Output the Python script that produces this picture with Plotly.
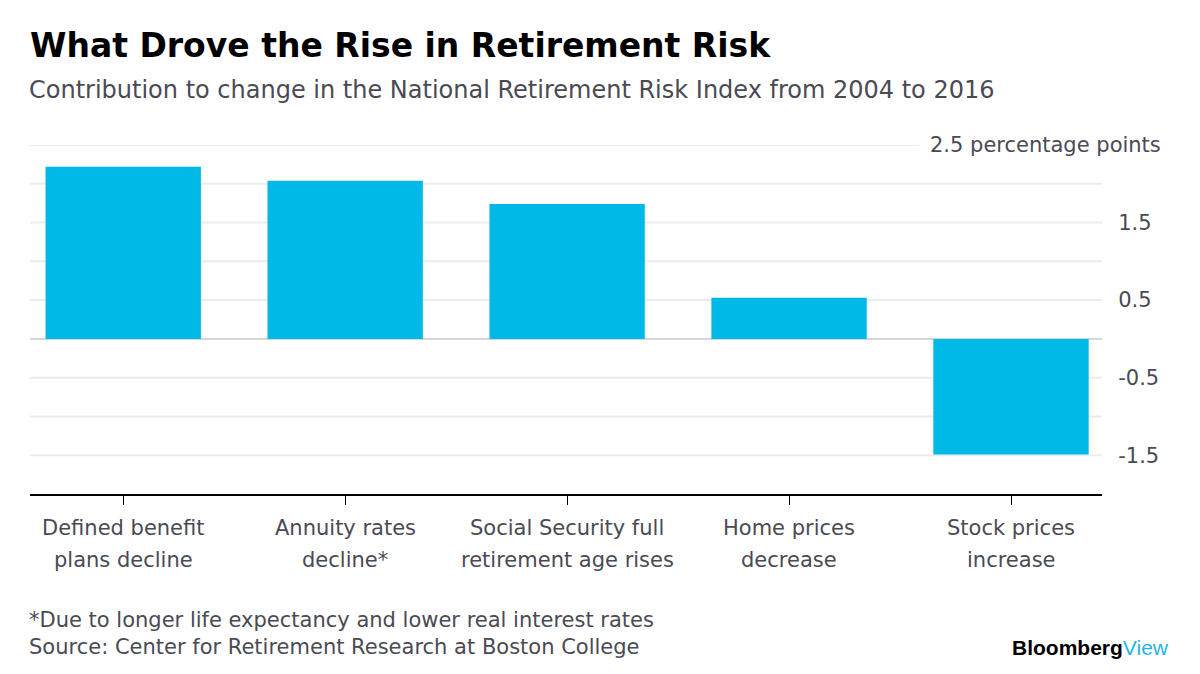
import plotly.graph_objects as go

categories = ["Defined benefit<br>plans decline", "Annuity rates<br>decline*",
              "Social Security full<br>retirement age rises", "Home prices<br>decrease",
              "Stock prices<br>increase"]
values = [2.22, 2.04, 1.74, 0.53, -1.49]
y_tickvals = [-1.5, -0.5, 0.5, 1.5]
y_ticktext = ["-1.5", "-0.5", "0.5", "1.5"]
grid_vals = [-1.5, -1.0, -0.5, 0.5, 1.0, 1.5, 2.0, 2.5]

FONT = "DejaVu Sans"
GREY = "#4a4a55"

W, H = 1200, 674
L, R, T, B = 30, 98, 145, 180
PH = H - T - B  # plot height
PW = W - L - R


def py(pix_y):
    """page pixel y -> paper coordinate"""
    return (H - B - pix_y) / PH


def px(pix_x):
    return (pix_x - L) / PW


fig = go.Figure()
fig.add_trace(go.Bar(x=list(range(len(categories))), y=values, width=0.7,
                     marker=dict(color="#00b9e6", line=dict(width=0)), hoverinfo="skip"))

for g in grid_vals:
    fig.add_shape(type="line", xref="paper", yref="y", x0=0, x1=1, y0=g, y1=g,
                  line=dict(color="#ececec", width=2), layer="below")
fig.add_shape(type="line", xref="paper", yref="y", x0=0, x1=1, y0=0, y1=0,
              line=dict(color="#d6d6d6", width=2), layer="below")

fig.update_layout(
    width=W, height=H,
    margin=dict(l=L, r=R, t=T, b=B),
    paper_bgcolor="white", plot_bgcolor="white",
    showlegend=False,
    font=dict(family=FONT, color=GREY, size=21),
    xaxis=dict(range=[-0.42, 4.41], tickvals=list(range(len(categories))),
               ticktext=[""] * len(categories), automargin=False,
               showline=True, linecolor="black", linewidth=1.5, ticks="outside",
               tickcolor="black", ticklen=9, tickwidth=1, showgrid=False, zeroline=False),
    yaxis=dict(range=[-2, 2.5], side="right", tickvals=y_tickvals, ticktext=y_ticktext,
               automargin=False,
               showgrid=False, zeroline=False, ticks="outside", ticklen=11, tickcolor="white",
               tickfont=dict(size=21, color=GREY, family=FONT)),
)

# category labels, two lines each
for i, c in enumerate(categories):
    lines = c.split("<br>")
    for j, ln in enumerate(lines):
        fig.add_annotation(xref="x", yref="paper", x=i, y=py(528 + 32 * j), text=ln,
                           showarrow=False, xanchor="center", yanchor="middle",
                           font=dict(size=21, color=GREY, family=FONT))

fig.add_annotation(xref="paper", yref="y", x=px(1172), y=2.5, text="2.5 percentage points",
                   showarrow=False, xanchor="right", yanchor="middle", bgcolor="white",
                   borderpad=10, font=dict(size=21, color=GREY, family=FONT))

fig.add_annotation(xref="paper", yref="paper", x=px(28), y=py(46),
                   text="<b>What Drove the Rise in Retirement Risk</b>", showarrow=False,
                   xanchor="left", yanchor="middle",
                   font=dict(size=33, color="black", family="DejaVu Sans", weight=900))
fig.add_annotation(xref="paper", yref="paper", x=px(27), y=py(90),
                   text="Contribution to change in the National Retirement Risk Index from 2004 to 2016",
                   showarrow=False, xanchor="left", yanchor="middle",
                   font=dict(size=24, color=GREY, family=FONT))
fig.add_annotation(xref="paper", yref="paper", x=px(27), y=py(620), xanchor="left", yanchor="middle",
                   text="*Due to longer life expectancy and lower real interest rates",
                   showarrow=False, font=dict(size=21, color=GREY, family=FONT))
fig.add_annotation(xref="paper", yref="paper", x=px(27), y=py(647), xanchor="left", yanchor="middle",
                   text="Source: Center for Retirement Research at Boston College",
                   showarrow=False, font=dict(size=21, color=GREY, family=FONT))
fig.add_annotation(xref="paper", yref="paper", x=px(1171), y=py(647), xanchor="right", yanchor="middle",
                   text="<b>Bloomberg</b><span style='color:#1fb5e8'>View</span>",
                   showarrow=False, font=dict(size=21, color="black", family="Liberation Sans"))

fig.write_html("out.html", config={"displayModeBar": False},
               post_script="document.body.style.margin='0';")
